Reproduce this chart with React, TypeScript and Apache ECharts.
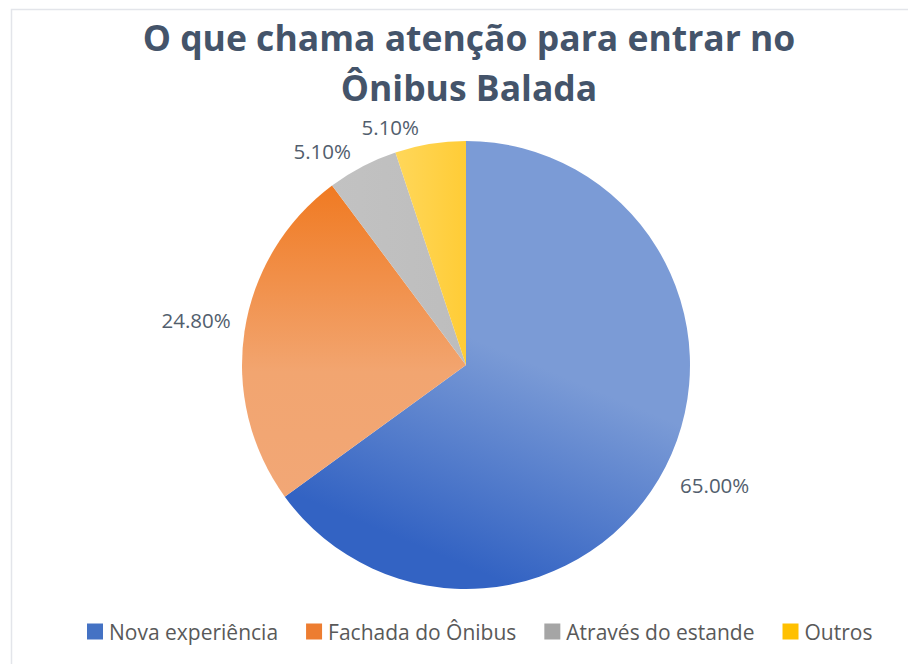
import React, { useEffect, useRef } from "react";
import * as echarts from "echarts";

const titleLines = ["O que chama atenção para entrar no", "Ônibus Balada"];
const categories = ["Nova experiência", "Fachada do Ônibus", "Através do estande", "Outros"];
const values = [65.0, 24.8, 5.1, 5.1];
const legendColors = ["#4472c4", "#ed7d31", "#a5a5a5", "#ffc000"];

const sliceFills = [
  new echarts.graphic.LinearGradient(0.62, 0.5, 0.45, 0.95, [
    { offset: 0, color: "#7b9bd6" },
    { offset: 1, color: "#3363c3" },
  ]),
  new echarts.graphic.LinearGradient(0, 0, 0, 1, [
    { offset: 0, color: "#f07a22" },
    { offset: 0.6, color: "#f2a570" },
    { offset: 1, color: "#f2a776" },
  ]),
  new echarts.graphic.LinearGradient(0, 0, 1, 0, [
    { offset: 0, color: "#c2c2c2" },
    { offset: 1, color: "#bdbdbd" },
  ]),
  new echarts.graphic.LinearGradient(0, 0, 1, 0, [
    { offset: 0, color: "#ffd75a" },
    { offset: 1, color: "#ffcc36" },
  ]),
];

const labelOffsets = [
  [-3, 12],
  [5, -9],
  [0, -3],
  [-4, -3],
];

export default function App() {
  const ref = useRef<HTMLDivElement>(null);
  useEffect(() => {
    if (!ref.current) return;
    const chart = echarts.init(ref.current, null, { renderer: "svg" });
    chart.setOption({
      animation: false,
      backgroundColor: "#ffffff",
      title: {
        text: titleLines.join("\n"),
        left: 464,
        textAlign: "center",
        top: 7,
        textStyle: {
          fontFamily: "Open Sans",
          fontWeight: "bold",
          fontSize: 35.5,
          lineHeight: 50,
          color: "#44546a",
        },
      },
      graphic: [
        {
          type: "rect",
          shape: { x: 11.5, y: 9.5, width: 1000, height: 1000 },
          style: { fill: "none", stroke: "#e3e5ea", lineWidth: 1.5 },
          silent: true,
          z: -1,
        },
      ],
      legend: {
        bottom: 17,
        left: 82,
        itemWidth: 16,
        itemHeight: 16,
        itemGap: 28,
        icon: "rect",
        textStyle: { fontFamily: "Open Sans", fontSize: 21, color: "#595959", padding: [0, 0, 0, 1] },
        data: categories.map((name, i) => ({ name, itemStyle: { color: legendColors[i] } })),
      },
      series: [
        {
          type: "pie",
          center: [466, 365],
          radius: 224,
          startAngle: 90,
          clockwise: true,
          label: {
            show: true,
            position: "outside",
            formatter: (p: any) => p.value.toFixed(2) + "%",
            fontFamily: "Open Sans",
            fontSize: 20.5,
            color: "#525e6d",
          },
          labelLine: { show: false, length: 14, length2: 0 },
          labelLayout: (p: any) => ({ dx: labelOffsets[p.dataIndex][0], dy: labelOffsets[p.dataIndex][1] }),
          emphasis: { disabled: true },
          data: categories.map((name, i) => ({
            name,
            value: values[i],
            itemStyle: { color: sliceFills[i] },
          })),
        },
      ],
    });
    return () => chart.dispose();
  }, []);
  return <div ref={ref} style={{ position: "fixed", left: 0, top: 0, width: 908, height: 664 }} />;
}
